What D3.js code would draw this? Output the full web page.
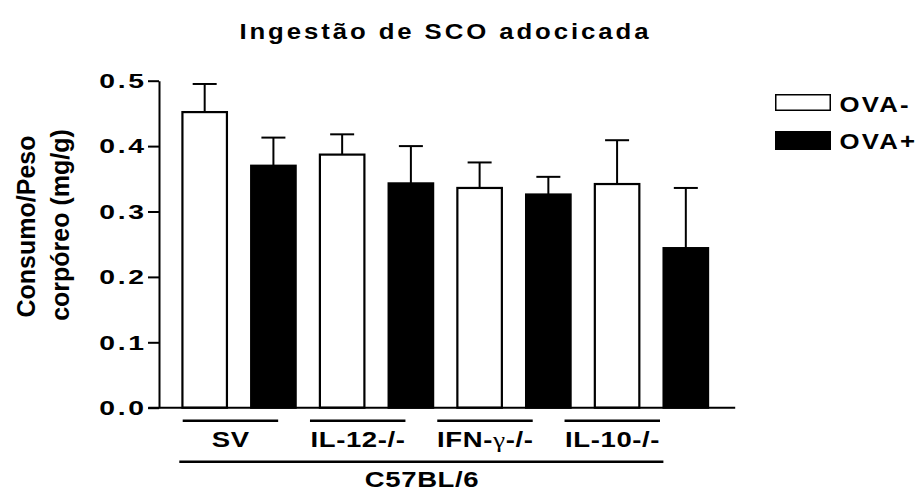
<!DOCTYPE html>
<html>
<head>
<meta charset="utf-8">
<script src="https://cdn.jsdelivr.net/npm/d3@7"></script>
<style>
  html, body { margin: 0; padding: 0; background: #fff; }
  svg { display: block; font-family: "Liberation Sans", Arial, sans-serif; font-weight: bold; }
</style>
</head>
<body>
<svg id="chart" width="922" height="490"></svg>
<script>
// ---- data ----
const title = "Ingestão de SCO adocicada";
const strains = ["SV", "IL-12-/-", "IFN-γ-/-", "IL-10-/-"];
const background = "C57BL/6";
const series = ["OVA-", "OVA+"];
const meanOVAneg = [0.452, 0.387, 0.336, 0.342];
const semOVAneg  = [0.043, 0.031, 0.039, 0.067];
const meanOVApos = [0.370, 0.343, 0.326, 0.244];
const semOVApos  = [0.043, 0.057, 0.027, 0.092];
const yTicks = [0, 0.1, 0.2, 0.3, 0.4, 0.5];
const yLabel = ["Consumo/Peso", "corpóreo (mg/g)"];

const rows = strains.flatMap((g, i) => [
  { group: g, series: series[0], mean: meanOVAneg[i], sem: semOVAneg[i] },
  { group: g, series: series[1], mean: meanOVApos[i], sem: semOVApos[i] }
]);
const key = d => d.group + "|" + d.series;

// ---- layout ----
const svg = d3.select("#chart");
const INK = "#000";

const y = d3.scaleLinear().domain([0, 0.5]).range([407.7, 80.7]);
const x = d3.scaleBand().domain(rows.map(key)).range([159.3, 731.2]).padding(0.3205);
const gx = d3.scaleBand().domain(strains).range([182.7, 660]).paddingInner(0.25).paddingOuter(0);
const fill = d3.scaleOrdinal().domain(series).range(["#fff", "#000"]);

// wide, letter-spaced bold label (horizontal)
function wideText(parent, txt, px, py, opts) {
  const o = Object.assign({ size: 22, sx: 1.25, ls: 0.5, anchor: "middle" }, opts);
  const shift = o.anchor === "middle" ? o.ls / 2 : (o.anchor === "end" ? o.ls : 0);
  return parent.append("text")
    .attr("transform", `translate(${px},${py}) scale(${o.sx},1)`)
    .attr("dx", shift)
    .attr("text-anchor", o.anchor)
    .attr("font-size", o.size)
    .attr("letter-spacing", o.ls)
    .attr("fill", INK)
    .text(txt);
}

// ---- title ----
svg.append("text")
  .attr("x", 445.4).attr("y", 39.3)
  .attr("text-anchor", "middle")
  .attr("font-size", 22)
  .attr("letter-spacing", 2.5)
  .attr("textLength", 412)
  .attr("lengthAdjust", "spacingAndGlyphs")
  .attr("fill", INK)
  .text(title);

// ---- bars ----
const sw = 2.2;
const bars = svg.append("g");
const cap = 12;

bars.selectAll("line.err").data(rows).join("line")
  .attr("class", "err")
  .attr("x1", d => x(key(d)) + x.bandwidth() / 2)
  .attr("x2", d => x(key(d)) + x.bandwidth() / 2)
  .attr("y1", d => y(d.mean))
  .attr("y2", d => y(d.mean + d.sem))
  .attr("stroke", INK).attr("stroke-width", 2);

bars.selectAll("line.cap").data(rows).join("line")
  .attr("class", "cap")
  .attr("x1", d => x(key(d)) + x.bandwidth() / 2 - cap)
  .attr("x2", d => x(key(d)) + x.bandwidth() / 2 + cap)
  .attr("y1", d => y(d.mean + d.sem))
  .attr("y2", d => y(d.mean + d.sem))
  .attr("stroke", INK).attr("stroke-width", 2);

bars.selectAll("rect").data(rows).join("rect")
  .attr("x", d => x(key(d)) + sw / 2)
  .attr("width", x.bandwidth() - sw)
  .attr("y", d => y(d.mean))
  .attr("height", d => y(0) - y(d.mean))
  .attr("fill", d => fill(d.series))
  .attr("stroke", INK)
  .attr("stroke-width", sw);

// ---- y axis ----
const yAxis = svg.append("g")
  .attr("transform", "translate(159,0)")
  .call(d3.axisLeft(y).tickValues(yTicks).tickFormat(d3.format(".1f")).tickSize(11).tickSizeOuter(0).tickPadding(0));
yAxis.select(".domain").attr("stroke", INK).attr("stroke-width", 2);
yAxis.selectAll(".tick line").attr("stroke", INK).attr("stroke-width", 2);
yAxis.selectAll(".tick text")
  .attr("x", null)
  .attr("transform", "translate(-12.3,0) scale(1.35,1)")
  .attr("font-size", 21)
  .attr("font-family", "Liberation Sans, Arial, sans-serif")
  .attr("font-weight", "bold")
  .attr("letter-spacing", 2)
  .attr("fill", INK);

// baseline (x axis)
svg.append("line")
  .attr("x1", x.range()[0] - 11).attr("x2", x.range()[1] + 4)
  .attr("y1", y(0)).attr("y2", y(0))
  .attr("stroke", INK).attr("stroke-width", 2);

// y axis title
const yl = svg.append("g").attr("font-size", 25).attr("fill", INK);
yl.append("text").attr("transform", "translate(35,226.5) rotate(-90)")
  .attr("text-anchor", "middle").text(yLabel[0]);
yl.append("text").attr("transform", "translate(69,225) rotate(-90)")
  .attr("text-anchor", "middle").text(yLabel[1]);

// ---- group brackets ----
const grp = svg.append("g");
grp.selectAll("line").data(strains).join("line")
  .attr("x1", d => gx(d)).attr("x2", d => gx(d) + gx.bandwidth())
  .attr("y1", 420.7).attr("y2", 420.7)
  .attr("stroke", INK).attr("stroke-width", 2.5);

strains.forEach(g => {
  const cx = gx(g) + gx.bandwidth() / 2;
  const t = wideText(grp, null, cx, 447.3, { size: 22, sx: 1.25, ls: 0.5 });
  // Greek letters set in a serif face, regular weight
  g.split(/(γ)/).filter(s => s.length).forEach(part => {
    const ts = t.append("tspan").text(part);
    if (part === "γ") ts.attr("font-family", "Liberation Serif, serif").attr("font-weight", "normal");
  });
});

svg.append("line")
  .attr("x1", gx.range()[0] - 3.4).attr("x2", gx.range()[1] + 3.4)
  .attr("y1", 461.7).attr("y2", 461.7)
  .attr("stroke", INK).attr("stroke-width", 2.5);
wideText(svg, background, 421.7, 486.8, { size: 22, sx: 1.25, ls: 0.5 });

// ---- legend ----
const legend = svg.append("g").attr("transform", "translate(775,0)");
const ly = d3.scalePoint().domain(series).range([0, 37]);
series.forEach(s => {
  legend.append("rect")
    .attr("x", s === series[0] ? 0.75 : 0)
    .attr("y", 95 + ly(s) - (s === series[0] ? 0.25 : 1))
    .attr("width", s === series[0] ? 54.5 : 56)
    .attr("height", s === series[0] ? 15.5 : 19)
    .attr("fill", fill(s))
    .attr("stroke", s === series[0] ? INK : "none")
    .attr("stroke-width", 1.5);
  wideText(legend, s, 64.5, 111.7 + ly(s), { size: 23, sx: 1.12, ls: 2, anchor: "start" });
});
</script>
</body>
</html>
